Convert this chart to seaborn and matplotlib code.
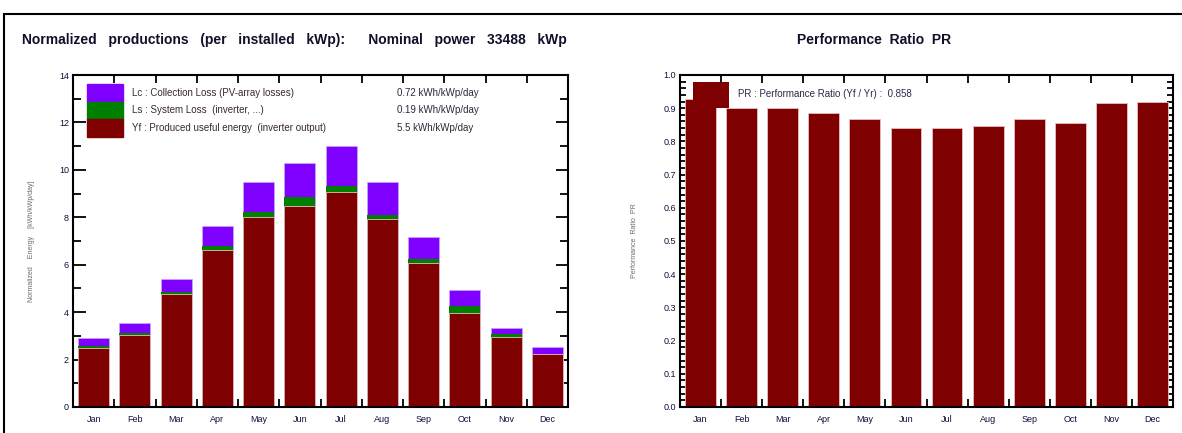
import numpy as np
import matplotlib.pyplot as plt
import seaborn as sns
from matplotlib.patches import Rectangle
from matplotlib.ticker import MultipleLocator, FixedLocator

# Monthly data
months = ["Jan", "Feb", "Mar", "Apr", "May", "Jun", "Jul", "Aug", "Sep", "Oct", "Nov", "Dec"]
yf = [2.48, 3.04, 4.75, 6.62, 8.03, 8.48, 9.05, 7.91, 6.06, 3.98, 2.97, 2.22]   # produced useful energy
ls = [0.11, 0.09, 0.09, 0.18, 0.18, 0.36, 0.28, 0.19, 0.18, 0.29, 0.11, 0.03]   # system loss
lc = [0.31, 0.40, 0.56, 0.85, 1.29, 1.44, 1.69, 1.40, 0.94, 0.66, 0.27, 0.28]   # collection loss
pr = [0.927, 0.900, 0.900, 0.886, 0.866, 0.839, 0.839, 0.846, 0.866, 0.854, 0.915, 0.920]
jan_pr_peak = 0.98   # glitch block drawn above the Jan bar in the report
jan_pr_base = 0.90

legend_rows = [
    ("Lc : Collection Loss (PV-array losses)", "0.72 kWh/kWp/day", "#8000ff"),
    ("Ls : System Loss  (inverter, ...)", "0.19 kWh/kWp/day", "#008000"),
    ("Yf : Produced useful energy  (inverter output)", "5.5 kWh/kWp/day", "#7f0000"),
]

maroon = "#7f0000"
green = "#008000"
purple = "#8000ff"
ink = "#10103a"

sns.set_theme(style="white")
plt.rcParams["font.family"] = ["Liberation Sans", "DejaVu Sans"]

fig = plt.figure(figsize=(11.82, 4.33), dpi=100)
W, H = 1182, 433

# outer frame of the report page (only top and left edges visible)
fig.add_artist(Rectangle((4 / W, -0.2), 1.2, 1 - 14 / H + 0.2, transform=fig.transFigure,
                         fill=False, edgecolor="black", linewidth=1.5))

ax1 = fig.add_axes([73 / W, 1 - 407 / H, 495 / W, 332 / H])
ax2 = fig.add_axes([680 / W, 1 - 407 / H, 493 / W, 332 / H])

# stacked bars: total, then Yf+Ls, then Yf
total = np.array(yf) + np.array(ls) + np.array(lc)
mid = np.array(yf) + np.array(ls)
sns.barplot(x=months, y=total, color=purple, saturation=1, width=0.75,
            edgecolor="#c9a0ff", linewidth=0.6, ax=ax1)
sns.barplot(x=months, y=mid, color=green, saturation=1, width=0.75,
            edgecolor="none", ax=ax1)
sns.barplot(x=months, y=yf, color=maroon, saturation=1, width=0.75,
            edgecolor="#e8c0c0", linewidth=0.6, ax=ax1)

sns.barplot(x=months, y=pr, color=maroon, saturation=1, width=0.75,
            edgecolor="#e8c0c0", linewidth=0.6, ax=ax2)
ax2.bar(0.25, jan_pr_peak - jan_pr_base, bottom=jan_pr_base, width=0.88,
        color=maroon, edgecolor="none", zorder=3)

for ax in (ax1, ax2):
    ax.set_xlim(-0.5, 11.5)
    ax.xaxis.set_major_locator(FixedLocator(range(12)))
    ax.set_xticklabels(months)
    ax.xaxis.set_minor_locator(FixedLocator(np.arange(0.5, 11, 1)))
    ax.tick_params(axis="x", which="major", length=0, pad=6, labelsize=6.5, labelcolor=ink)
    ax.tick_params(axis="x", which="minor", direction="in", length=6, width=1.3,
                   top=True, bottom=True, color="black")
    ax.tick_params(axis="y", which="both", direction="in", left=True, right=True,
                   labelsize=6.5, labelcolor=ink, color="black", width=1.3, pad=3)
    for s in ax.spines.values():
        s.set_linewidth(1.5)
        s.set_color("black")
        s.set_zorder(6)
    ax.set_xlabel("")

ax1.set_ylim(0, 14)
ax1.yaxis.set_major_locator(MultipleLocator(2))
ax1.yaxis.set_minor_locator(MultipleLocator(1))
ax1.tick_params(axis="y", which="major", length=9)
ax1.tick_params(axis="y", which="minor", length=6)
ax1.set_ylabel("Normalized    Energy    [kWh/kWp/day]", fontsize=5, color="#6e6a66")
ax1.yaxis.set_label_coords(-0.077, 0.5)

ax2.set_ylim(0, 1.0)
ax2.yaxis.set_major_locator(MultipleLocator(0.1))
ax2.yaxis.set_minor_locator(MultipleLocator(0.02))
ax2.yaxis.set_major_formatter(lambda v, p: f"{v:.1f}")
ax2.tick_params(axis="y", which="major", length=5)
ax2.tick_params(axis="y", which="minor", length=4)
ax2.set_ylabel("Performance  Ratio  PR", fontsize=5, color="#6e6a66")
ax2.yaxis.set_label_coords(-0.085, 0.5)

# legend box for the left chart
x0, w, top, h = 0.028, 0.073, 0.973, 0.053
for i, (label, value, color) in enumerate(legend_rows):
    y = top - (i + 1) * h
    ax1.add_patch(Rectangle((x0, y), w, h, transform=ax1.transAxes, color=color, zorder=5))
    ax1.text(0.119, y + h / 2, label, transform=ax1.transAxes, fontsize=7,
             va="center", color="#3a2a2a")
    ax1.text(0.655, y + h / 2, value, transform=ax1.transAxes, fontsize=7,
             va="center", color="#2a2a3a")

ax2.text(0.118, 0.942, "PR : Performance Ratio (Yf / Yr) :  0.858", transform=ax2.transAxes,
         fontsize=7, va="center", color="#2a2a4a", zorder=7)

fig.text(22 / W, 1 - 40 / H,
         "Normalized   productions   (per   installed   kWp):      Nominal   power   33488   kWp",
         fontsize=10, fontweight="bold", va="center", color="#10102a")
fig.text(874 / W, 1 - 40 / H, "Performance  Ratio  PR",
         fontsize=10, fontweight="bold", va="center", ha="center", color="#10102a")

fig.savefig("out.png", dpi=100)
